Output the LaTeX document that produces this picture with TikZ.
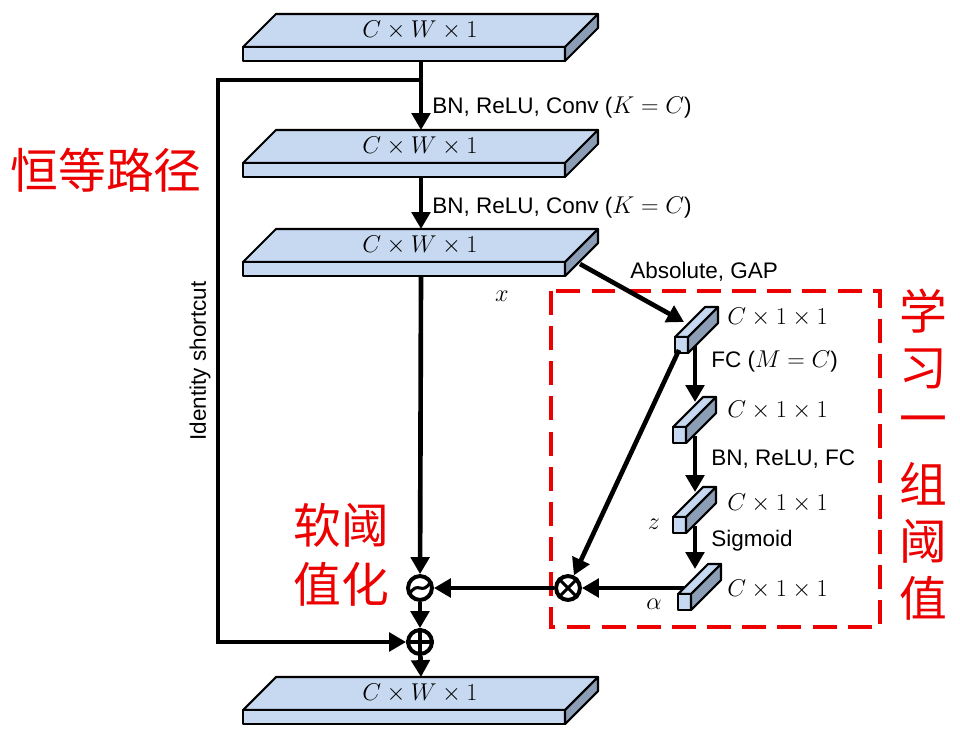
\documentclass[tikz,border=0pt]{standalone}
\usepackage{fontspec}
\setmainfont{Liberation Sans}
\newfontfamily\cjk{Noto Sans CJK SC}
\usetikzlibrary{arrows.meta, positioning}
\definecolor{slabBlue}{RGB}{198,217,240}
\definecolor{slabSide}{RGB}{140,158,182}
\definecolor{noteRed}{RGB}{236,0,0}
\tikzset{
  face/.style={draw=black, line width=1.5pt, line join=round, fill=slabBlue},
  sideface/.style={face, fill=slabSide},
  flow/.style={line width=3.3pt, -{Triangle[length=12pt, width=13pt]}},
  op/.style={circle, draw, line width=2.8pt, minimum size=17pt, inner sep=0pt},
  lab/.style={font=\fontsize{16}{19}\selectfont, inner sep=0pt},
  dim/.style={font=\fontsize{16}{19}\selectfont, inner sep=0pt},
  note/.style={text=noteRed, font=\cjk\fontsize{34}{42}\selectfont, align=center, inner sep=0pt},
  learnbox/.style={draw=noteRed, line width=2.2pt, dash pattern=on 17pt off 8pt},
}
% flat feature map: name, y of front top edge, text
\newcommand{\bigslab}[3]{%
  \draw[face] (243,#2) -- (565,#2) -- (598,#2-33) -- (276,#2-33) -- cycle;
  \draw[face] (243,#2) rectangle (565,#2+14);
  \draw[sideface] (565,#2) -- (598,#2-33) -- (598,#2-19) -- (565,#2+14) -- cycle;
  \node[dim] (#1) at (420,#2-16.5) {#3};
  \coordinate (#1-in) at (421,#2-33);
  \coordinate (#1-out) at (421,#2+14);
}
% small C x 1 x 1 block: name, x and y of front top left corner
\newcommand{\smallcube}[3]{%
  \draw[face] (#2,#3) -- (#2+13,#3) -- (#2+43,#3-30) -- (#2+30,#3-30) -- cycle;
  \draw[face] (#2,#3) rectangle (#2+13,#3+16);
  \draw[sideface] (#2+13,#3) -- (#2+43,#3-30) -- (#2+43,#3-14) -- (#2+13,#3+16) -- cycle;
  \coordinate (#1-in) at (695,#3-25);
  \coordinate (#1-out) at (695,#3+9);
}

\begin{document}
\begin{tikzpicture}[x=0.025cm, y=-0.025cm]
\useasboundingbox (0,0) rectangle (960,736);

% learned thresholds box
\draw[learnbox] (551,291) rectangle (880,627);

% main path
\bigslab{s1}{47}{$C\times W\times 1$}
\bigslab{s2}{163}{$C\times W\times 1$}
\bigslab{s3}{262}{$C\times W\times 1$}
\bigslab{s4}{710}{$C\times W\times 1$}

\smallcube{c1}{675}{337}
\smallcube{c2}{673}{427}
\smallcube{c3}{673}{517}
\smallcube{c4}{678}{594}

\node[op] (soft) at (420,588) {};
\node[op] (mul) at (568,588) {};
\node[op] (add) at (420,642) {};
\draw[line width=2.2pt] (mul.north west) -- (mul.south east) (mul.north east) -- (mul.south west);
\draw[line width=2.2pt] (add.north) -- (add.south) (add.west) -- (add.east);
\draw[line width=2.2pt] ([xshift=-8pt, yshift=-5pt]soft.center) .. controls ([xshift=-1pt, yshift=7pt]soft.center) and ([xshift=1pt, yshift=-7pt]soft.center) .. ([xshift=8pt, yshift=5pt]soft.center);

\coordinate (split) at (421,80);
\coordinate (sc1) at (218,80);
\coordinate (sc2) at (218,642);
\coordinate (s3-side) at (580,264);
\coordinate (c1-left) at (684,322);
\coordinate (c1-foot) at (679,350);
\coordinate (c4-left) at (684,588);

\draw[flow] (s1-out) -- (s2-in);
\draw[flow] (s2-out) -- (s3-in);
\draw[flow] (split) -- (sc1) -- (sc2) -- (add);
\draw[flow] (s3-out) -- (soft);
\draw[flow] (soft) -- (add);
\draw[flow] (add) -- (s4-in);
\draw[flow] (s3-side) -- (c1-left);
\draw[flow] (c1-out) -- (c2-in);
\draw[flow] (c2-out) -- (c3-in);
\draw[flow] (c3-out) -- (c4-in);
\draw[flow] (c1-foot) -- (mul);
\draw[flow] (c4-left) -- (mul);
\draw[flow] (mul) -- (soft);

% labels
\node[lab, anchor=west] (conv1) at (432,108) {BN, ReLU, Conv ($K=C$)};
\node[lab, anchor=west] (conv2) at (432,208) {BN, ReLU, Conv ($K=C$)};
\node[lab, rotate=90] (idlab) at (200,361) {Identity shortcut};
\node[lab, anchor=west] (gap) at (630,272) {Absolute, GAP};
\node[dim] (xlab) at (502,296) {$x$};
\node[dim, anchor=west] (d1) at (727,317) {$C\times 1\times 1$};
\node[dim, anchor=west] (d2) at (727,410) {$C\times 1\times 1$};
\node[dim, anchor=west] (d3) at (727,503) {$C\times 1\times 1$};
\node[dim, anchor=west] (d4) at (727,589) {$C\times 1\times 1$};
\node[lab, anchor=west] (fc1) at (711,362) {FC ($M=C$)};
\node[lab, anchor=west] (fc2) at (711,459) {BN, ReLU, FC};
\node[lab, anchor=west] (sig) at (711,541) {Sigmoid};
\node[dim] (zlab) at (654,524) {$z$};
\node[dim] (alab) at (654,604) {$\alpha$};

% notes
\node[note] (idnote) at (106,170) {恒等路径};
\node[note] (softnote) at (341,555) {软阈\\值化};
\foreach \ch [count=\i from 0] in {学,习,一,组,阈,值}
  \node[note] (learn\i) at (923,311+57.5*\i) {\ch};
\end{tikzpicture}
\end{document}
